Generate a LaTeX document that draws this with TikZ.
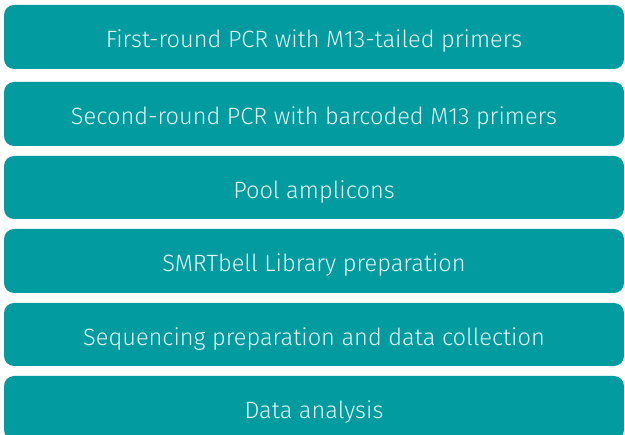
\documentclass[tikz,border=0pt]{standalone}
\usepackage{fontspec}
\setmainfont{Fira Sans}[UprightFont={* Light}]
\definecolor{stepfill}{HTML}{029B9F}
\definecolor{steptext}{HTML}{E2F4F4}
\begin{document}
\begin{tikzpicture}[x=1pt,y=-1pt,
  stepbox/.style={fill=stepfill, rounded corners=10pt, minimum width=620pt,
    inner sep=0pt, text=steptext, text height=22pt, text depth=0pt,
    font=\fontsize{23.6}{28}\selectfont, anchor=center}]
\useasboundingbox (0,0) rectangle (625,435);
\clip (0,0) rectangle (625,435);
\node[stepbox, minimum height=64pt] (s1) at (314,37)    {First-round PCR with M13-tailed primers};
\node[stepbox, minimum height=64pt] (s2) at (314,114)   {Second-round PCR with barcoded M13 primers};
\node[stepbox, minimum height=63pt] (s3) at (314,187.5) {Pool amplicons};
\node[stepbox, minimum height=64pt] (s4) at (314,261)   {SMRTbell Library preparation};
\node[stepbox, minimum height=63pt] (s5) at (314,334.5) {Sequencing preparation and data collection};
\node[stepbox, minimum height=64pt] (s6) at (314,408)   {Data analysis};
\end{tikzpicture}
\end{document}
